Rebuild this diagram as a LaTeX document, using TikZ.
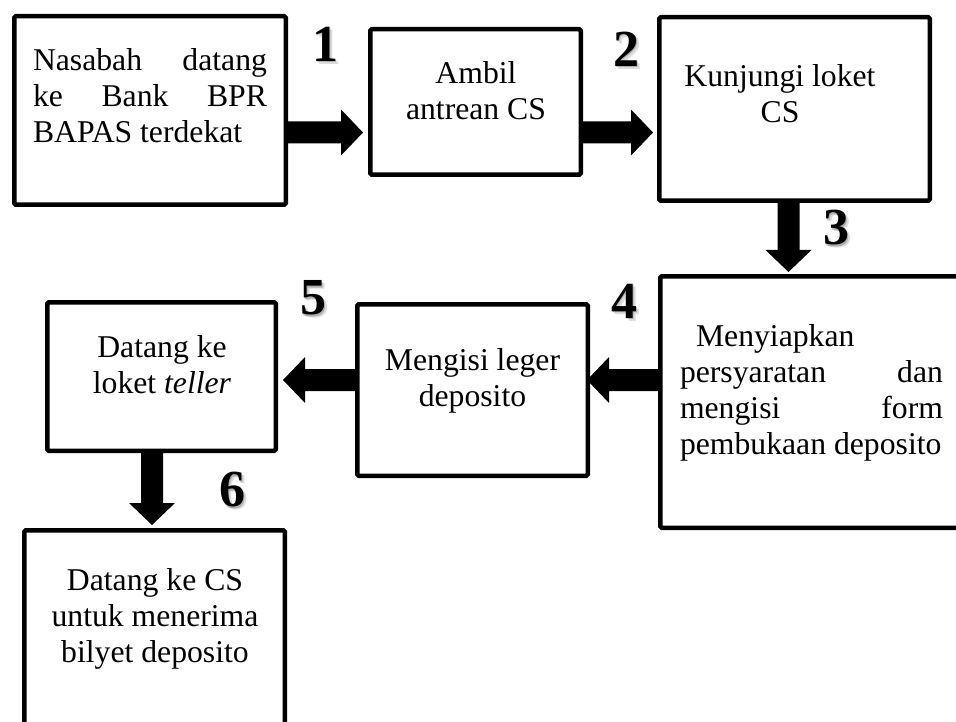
\documentclass[tikz,border=0pt]{standalone}
\usepackage{fontspec}
\setmainfont{Liberation Serif}
\usetikzlibrary{calc}
\tikzset{
  box/.style={draw=black, line width=4.5pt, rounded corners=1.5pt, inner sep=0pt, fill=white},
  txt/.style={inner sep=0pt, anchor=base, font=\fontsize{31.7}{36}\selectfont},
  numtext/.style={inner sep=0pt, font=\fontsize{52}{52}\selectfont\bfseries, text=black},
  numshadow/.style={numtext, text=black!60},
}
% block arrow from #2 to #3, tip stopping #1 before #3
\newcommand\blockarrowdraw[3][4pt]{%
  \coordinate (ba-s) at (#2);
  \coordinate (ba-t) at (#3);
  \coordinate (ba-e) at ($(ba-t)!#1!(ba-s)$);
  \coordinate (ba-h) at ($(ba-e)!22pt!(ba-s)$);
  \fill[black] ($(ba-s)!11pt!90:(ba-e)$) -- ($(ba-h)!11pt!-90:(ba-s)$)
    -- ($(ba-h)!23pt!-90:(ba-s)$) -- (ba-e) -- ($(ba-h)!23pt!90:(ba-s)$)
    -- ($(ba-h)!11pt!90:(ba-s)$) -- ($(ba-s)!11pt!-90:(ba-e)$) -- cycle;
}
\newcommand\steplabel[3]{%
  \node[numshadow, opacity=.22] (#1s2) at ($(#2)+(3,3)$) {#3};
  \node[numshadow, opacity=.40] (#1s1) at ($(#2)+(1.5,1.5)$) {#3};
  \node[numtext] (#1) at (#2) {#3};
}
\begin{document}
\begin{tikzpicture}[x=1pt,y=-1pt]
\useasboundingbox (0,0) rectangle (956,722);
\clip (0,0) rectangle (956,722);
\fill[white] (0,0) rectangle (956,722);

% boxes
\node[box, minimum width=271.5pt, minimum height=188.5pt] (b1) at (150,110.5) {};
\node[box, minimum width=210.5pt, minimum height=145.5pt] (b2) at (475.5,102) {};
\node[box, minimum width=270.5pt, minimum height=183.5pt] (b3) at (794.5,109) {};
\node[box, minimum width=339.5pt, minimum height=251.5pt] (b4) at (830,402) {};
\node[box, minimum width=230.5pt, minimum height=171.5pt] (b5) at (472.5,390) {};
\node[box, minimum width=228.5pt, minimum height=148.5pt] (b6) at (161.5,376.5) {};
\node[box, minimum width=260.5pt, minimum height=229.5pt] (b7) at (154.5,645) {};

% texts
\node[txt] (t1) at (150,71) {\begin{tabular}[t]{@{}c@{}}
  \hbox to 234pt{Nasabah\hfill datang}\\
  \hbox to 234pt{ke\hfill Bank\hfill BPR}\\
  \hbox to 234pt{BAPAS terdekat\hfill}
\end{tabular}};
\node[txt] (t2) at (476,84) {\begin{tabular}[t]{@{}c@{}}Ambil\\antrean CS\end{tabular}};
\node[txt] (t3) at (780,87) {\begin{tabular}[t]{@{}c@{}}Kunjungi loket\\CS\end{tabular}};
\node[txt] (t4) at (811.5,346) {\begin{tabular}[t]{@{}c@{}}
  \hbox to 263pt{\hspace{16pt}Menyiapkan\hfill}\\
  \hbox to 263pt{persyaratan\hfill dan}\\
  \hbox to 263pt{mengisi\hfill form}\\
  \hbox to 263pt{pembukaan deposito\hfill}
\end{tabular}};
\node[txt] (t5) at (472.5,370) {\begin{tabular}[t]{@{}c@{}}Mengisi leger\\deposito\end{tabular}};
\node[txt] (t6) at (162,357) {\begin{tabular}[t]{@{}c@{}}Datang ke\\loket \textit{teller}\end{tabular}};
\node[txt] (t7) at (155,590) {\begin{tabular}[t]{@{}c@{}}Datang ke CS\\untuk menerima\\bilyet deposito\end{tabular}};

% arrows
\blockarrowdraw[5pt]{b1.east |- 0,132.5}{b2.west |- 0,132.5}
\blockarrowdraw[4pt]{b2.east |- 0,132.5}{b3.west |- 0,132.5}
\blockarrowdraw[2pt]{b3.south -| 788.5,0}{b4.north -| 788.5,0}
\blockarrowdraw[-3pt]{b4.west |- 0,380}{b5.east |- 0,380}
\blockarrowdraw[5pt]{b5.west |- 0,380}{b6.east |- 0,380}
\blockarrowdraw[3pt]{b6.south -| 152,0}{b7.north -| 152,0}

% step numbers
\steplabel{n1}{325,44}{1}
\steplabel{n2}{626,49}{2}
\steplabel{n3}{836,228}{3}
\steplabel{n4}{624,301}{4}
\steplabel{n5}{313,298}{5}
\steplabel{n6}{232,490}{6}
\end{tikzpicture}
\end{document}
